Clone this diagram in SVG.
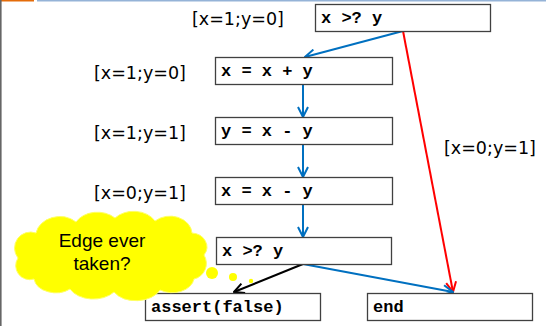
<svg xmlns="http://www.w3.org/2000/svg" width="546" height="326" viewBox="0 0 546 326">
<defs>
<style>
.box{fill:#fff;stroke:#404040;stroke-width:1.3}
.code{font-family:"Liberation Mono","Courier New",monospace;font-weight:bold;font-size:17px;fill:#000}
.lbl{font-family:"DejaVu Sans",Verdana,sans-serif;font-size:17.5px;fill:#000}
.edge{fill:none;stroke-width:2}
.blue{stroke:#0070C0}
.red{stroke:#FF0000}
.black{stroke:#000}
</style>
<marker id="ab" viewBox="0 0 12 12" refX="11" refY="6" markerWidth="12" markerHeight="12" markerUnits="userSpaceOnUse" orient="auto"><path d="M1,1 L11,6 L1,11" fill="none" stroke="#0070C0" stroke-width="2"/></marker>
<marker id="ar" viewBox="0 0 12 12" refX="11" refY="6" markerWidth="12" markerHeight="12" markerUnits="userSpaceOnUse" orient="auto"><path d="M1,1 L11,6 L1,11" fill="none" stroke="#FF0000" stroke-width="2"/></marker>
<marker id="ak" viewBox="0 0 12 12" refX="11" refY="6" markerWidth="12" markerHeight="12" markerUnits="userSpaceOnUse" orient="auto"><path d="M1,1 L11,6 L1,11" fill="none" stroke="#000" stroke-width="2"/></marker>
</defs>
<rect x="0" y="0" width="546" height="326" fill="#fff"/>
<line x1="0" y1="0.8" x2="34" y2="0.8" stroke="#E46C0A" stroke-width="1.6"/>
<line x1="37" y1="0.8" x2="546" y2="0.8" stroke="#95B3D7" stroke-width="1.6"/>
<line x1="0.8" y1="0" x2="0.8" y2="326" stroke="#666" stroke-width="1.6"/>

<g id="edges">
<line class="edge blue" x1="403" y1="31" x2="305" y2="57" marker-end="url(#ab)"/>
<line class="edge red" x1="403" y1="31" x2="453" y2="292" marker-end="url(#ar)"/>
<line class="edge blue" x1="303" y1="84" x2="303" y2="117" marker-end="url(#ab)"/>
<line class="edge blue" x1="303" y1="144" x2="303" y2="177" marker-end="url(#ab)"/>
<line class="edge blue" x1="303" y1="204" x2="303" y2="237" marker-end="url(#ab)"/>
<line class="edge black" x1="303" y1="264" x2="234" y2="292" marker-end="url(#ak)"/>
<line class="edge blue" x1="303" y1="264" x2="453" y2="292" marker-end="url(#ab)"/>
</g>

<g id="n1"><rect class="box" x="315.5" y="4.5" width="175" height="27"/><text class="code" x="321" y="23">x &gt;? y</text></g>
<g id="n2"><rect class="box" x="215.5" y="57.5" width="177" height="27"/><text class="code" x="221" y="76">x = x + y</text></g>
<g id="n3"><rect class="box" x="215.5" y="117.5" width="177" height="27"/><text class="code" x="221" y="136">y = x - y</text></g>
<g id="n4"><rect class="box" x="215.5" y="177.5" width="177" height="27"/><text class="code" x="221" y="196">x = x - y</text></g>
<g id="n5"><rect class="box" x="216.5" y="237.5" width="175" height="27"/><text class="code" x="222" y="256">x &gt;? y</text></g>
<g id="n6"><rect class="box" x="145.5" y="293.5" width="175" height="27"/><text class="code" x="151" y="312">assert(false)</text></g>
<g id="n7"><rect class="box" x="367.5" y="293.5" width="165" height="27"/><text class="code" x="373" y="312">end</text></g>

<g id="labels">
<text class="lbl" x="192" y="25">[x=1;y=0]</text>
<text class="lbl" x="94" y="79">[x=1;y=0]</text>
<text class="lbl" x="94" y="139">[x=1;y=1]</text>
<text class="lbl" x="94" y="199">[x=0;y=1]</text>
<text class="lbl" x="444" y="154">[x=0;y=1]</text>
</g>

<g id="cloud">
<path d="M18,258 A16,16 0 0 1 36,233 A24,20 0 0 1 76,222 A24,18 0 0 1 115,218 A24,18 0 0 1 155,221 A22,18 0 0 1 192,233 A16,14 0 0 1 204,255 A16,16 0 0 1 194,279 A22,16 0 0 1 160,290 A26,18 0 0 1 114,292 A26,18 0 0 1 70,289 A22,16 0 0 1 34,279 A14,14 0 0 1 18,258 Z" fill="#FFFF00" stroke="#FFFF66" stroke-width="1"/>
<circle cx="212" cy="273" r="6" fill="#FFFF00"/>
<circle cx="233" cy="277" r="4" fill="#FFFF00"/>
<circle cx="251" cy="281" r="2.2" fill="#FFFF00"/>
<text x="102" y="247" text-anchor="middle" font-family="Liberation Sans,Arial,sans-serif" font-size="19">Edge ever</text>
<text x="102" y="270" text-anchor="middle" font-family="Liberation Sans,Arial,sans-serif" font-size="19">taken?</text>
</g>
</svg>
